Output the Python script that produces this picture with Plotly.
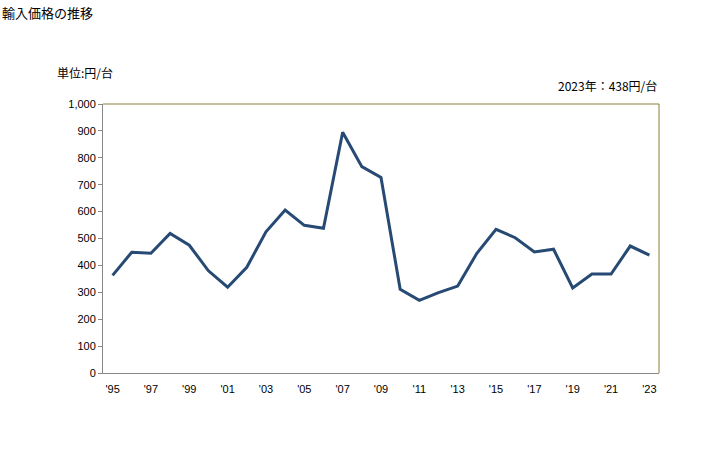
import plotly.graph_objects as go

years = list(range(1995, 2024))
labels = ["'" + str(y)[2:] for y in years]
values = [363, 449, 445, 519, 475, 380, 319, 393, 525, 606, 549, 538, 895, 767, 727,
          311, 270, 299, 323, 445, 534, 503, 450, 460, 316, 368, 368, 472, 438]
y_ticks = [0, 100, 200, 300, 400, 500, 600, 700, 800, 900, 1000]
y_tick_text = ["0", "100", "200", "300", "400", "500", "600", "700", "800", "900", "1,000"]
x_tick_labels = [l if i % 2 == 0 else "" for i, l in enumerate(labels)]

font = "Liberation Sans, Arial, Noto Sans CJK JP, sans-serif"

fig = go.Figure()
fig.add_trace(go.Scatter(x=labels, y=values, mode="lines",
                         line=dict(color="#264a74", width=3), hoverinfo="skip"))

fig.update_layout(
    width=728, height=450,
    margin=dict(l=103, r=69, t=104, b=77),
    paper_bgcolor="white", plot_bgcolor="white",
    showlegend=False,
    font=dict(family=font, size=11, color="#000"),
    xaxis=dict(type="category", tickmode="array", tickvals=labels, ticktext=x_tick_labels,
               showgrid=False, zeroline=False, showline=True, linecolor="#888888", linewidth=1,
               ticks="", ticklabelstandoff=6, tickfont=dict(size=11),
               range=[-0.5, len(labels) - 0.5]),
    yaxis=dict(range=[0, 1000], tickvals=y_ticks, ticktext=y_tick_text,
               showgrid=False, zeroline=False, showline=True, linecolor="#888888", linewidth=1,
               ticks="outside", ticklen=4, tickcolor="#888888", tickfont=dict(size=11)),
    shapes=[
        dict(type="line", xref="paper", yref="paper", x0=0, x1=1, y0=1, y1=1,
             line=dict(color="#8b7d3a", width=1)),
        dict(type="line", xref="paper", yref="paper", x0=1, x1=1, y0=0, y1=1,
             line=dict(color="#8b7d3a", width=1)),
    ],
    annotations=[
        dict(text="輸入価格の推移", xref="paper", yref="paper", x=-103/556, y=1 + 92/269,
             xanchor="left", yanchor="middle", showarrow=False,
             font=dict(size=13, family="Noto Sans CJK JP")),
        dict(text="単位:円/台", xref="paper", yref="paper", x=-48/556, y=1 + 31/269,
             xanchor="left", yanchor="middle", showarrow=False,
             font=dict(size=12, family="Noto Sans CJK JP")),
        dict(text="2023年：438円/台", xref="paper", yref="paper", x=1, y=1 + 19/269,
             xanchor="right", yanchor="middle", showarrow=False,
             font=dict(size=12, family="Noto Sans CJK JP")),
    ],
)

fig.write_html("out.html")
